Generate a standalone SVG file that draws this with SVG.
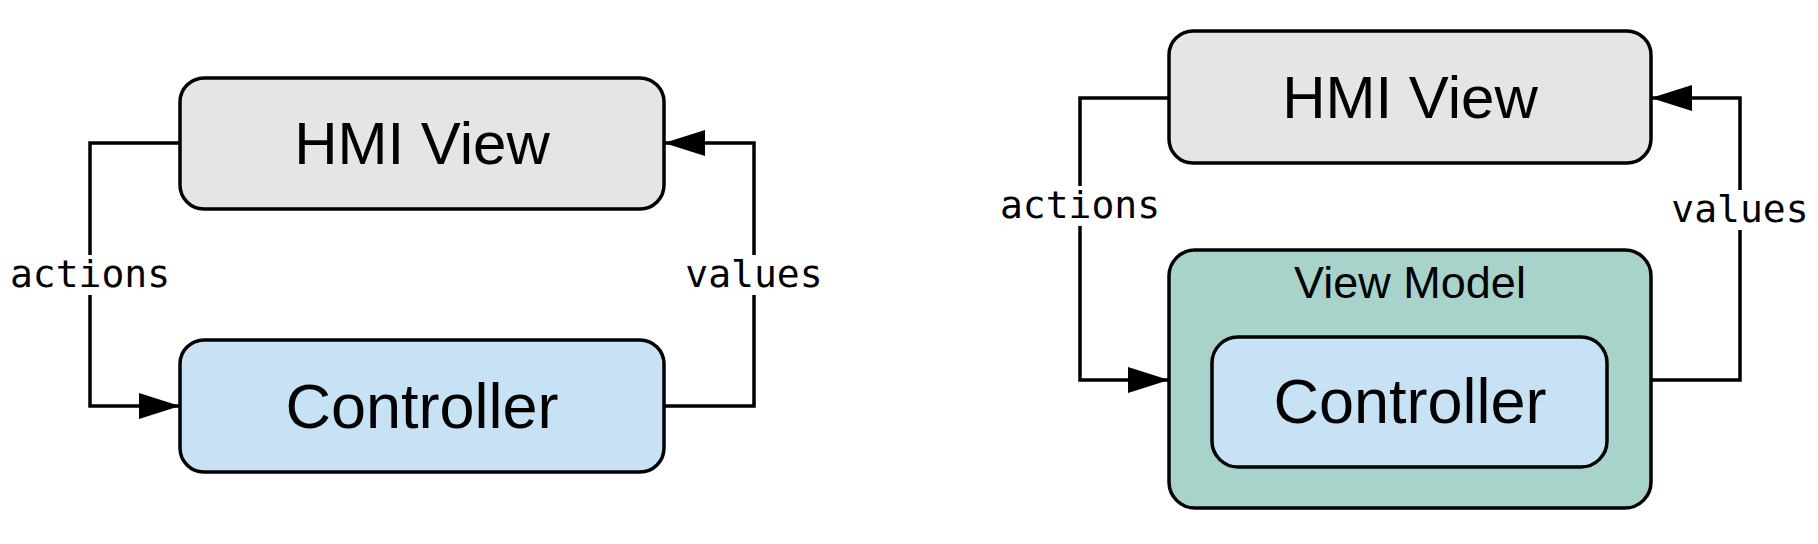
<svg xmlns="http://www.w3.org/2000/svg" width="1818" height="544" viewBox="0 0 1818 544">
  <defs>
    <marker id="arr" markerUnits="userSpaceOnUse" markerWidth="42" markerHeight="28" viewBox="0 0 42 28" refX="41" refY="14" orient="auto">
      <path d="M0,1 L41,14 L0,27 Z" fill="#000"/>
    </marker>
  </defs>
  <style>
    .box { stroke: #000; stroke-width: 3.5; }
    .hmi { fill: #e5e5e5; }
    .ctl { fill: #c7e2f4; }
    .vm { fill: #a7d3ca; }
    .node { font-family: "Liberation Sans", Arial, sans-serif; fill: #000; text-anchor: middle; }
    .big { font-size: 60px; }
    .ctltxt { font-size: 63px; }
    .mid { font-size: 45px; }
    .conn { fill: none; stroke: #000; stroke-width: 3.5; }
    .lbl { font-family: "DejaVu Sans Mono", "Liberation Mono", monospace; font-size: 38px; fill: #000; text-anchor: middle; }
    .bg { fill: #fff; }
  </style>
  <rect width="1818" height="544" fill="#fff"/>

  <g id="connectors">
    <path class="conn" d="M180,143 H90 V406 H180" marker-end="url(#arr)"/>
    <path class="conn" d="M664,406 H754 V143 H664" marker-end="url(#arr)"/>
    <path class="conn" d="M1169,98 H1080 V380 H1169" marker-end="url(#arr)"/>
    <path class="conn" d="M1651,380 H1740 V98 H1651" marker-end="url(#arr)"/>
    <rect class="bg" x="8" y="255" width="164" height="40"/>
    <text class="lbl" x="90" y="287">actions</text>
    <rect class="bg" x="680" y="255" width="148" height="40"/>
    <text class="lbl" x="754" y="287">values</text>
    <rect class="bg" x="998" y="186" width="164" height="40"/>
    <text class="lbl" x="1080" y="218">actions</text>
    <rect class="bg" x="1666" y="190" width="148" height="40"/>
    <text class="lbl" x="1740" y="222">values</text>
  </g>

  <g id="hmi-left">
    <rect class="box hmi" x="180" y="78" width="484" height="131" rx="24"/>
    <text class="node big" x="422" y="164">HMI View</text>
  </g>
  <g id="controller-left">
    <rect class="box ctl" x="180" y="340" width="484" height="132" rx="24"/>
    <text class="node ctltxt" x="422" y="428">Controller</text>
  </g>

  <g id="hmi-right">
    <rect class="box hmi" x="1169" y="31" width="482" height="132" rx="24"/>
    <text class="node big" x="1410" y="118">HMI View</text>
  </g>
  <g id="viewmodel-right">
    <rect class="box vm" x="1169" y="250" width="482" height="258" rx="26"/>
    <text class="node mid" x="1410" y="298">View Model</text>
  </g>
  <g id="controller-right">
    <rect class="box ctl" x="1212" y="337" width="395" height="130" rx="26"/>
    <text class="node ctltxt" x="1410" y="423">Controller</text>
  </g>
</svg>
